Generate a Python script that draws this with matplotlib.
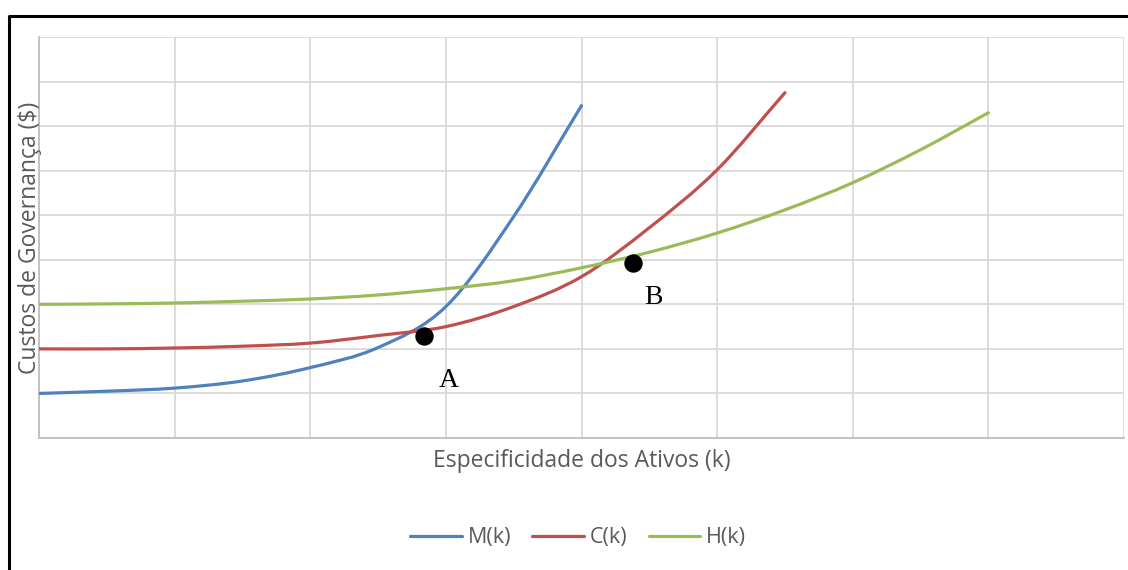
import numpy as np
import matplotlib.pyplot as plt
from matplotlib.lines import Line2D
from matplotlib.path import Path
from matplotlib.patches import PathPatch

# values (grid units)
k_m = [0, 0.5, 1.0, 1.5, 2.0, 2.5, 3.0, 3.5, 4.0]
m_k = [1.0, 1.05, 1.12, 1.28, 1.58, 2.03, 2.95, 4.97, 7.46]

k_c = [0, 0.5, 1.0, 1.5, 2.0, 2.5, 3.0, 3.5, 4.0, 4.5, 5.0, 5.5]
c_k = [2.0, 2.0, 2.02, 2.06, 2.13, 2.3, 2.5, 2.95, 3.62, 4.72, 6.02, 7.75]

k_h = [0, 0.5, 1.0, 1.5, 2.0, 2.5, 3.0, 3.5, 4.0, 4.5, 5.0, 5.5, 6.0, 6.5, 7.0]
h_k = [3.0, 3.01, 3.03, 3.07, 3.12, 3.21, 3.35, 3.53, 3.82, 4.17, 4.6, 5.12, 5.73, 6.47, 7.3]

names = ['M(k)', 'C(k)', 'H(k)']
colors = ['#4F81BD', '#C0504D', '#9BBB59']

pt_k = [2.84, 4.38]
pt_y = [2.29, 3.93]
pt_lbl = ['A', 'B']
lbl_k = [3.02, 4.53]
lbl_y = [1.3, 3.15]


def smooth_path(xs, ys):
    # smoothed line like Excel: cubic Hermite segments through the points
    x = np.asarray(xs, float)
    y = np.asarray(ys, float)
    n = len(x)
    m = np.empty(n)
    m[0] = (y[1] - y[0]) / (x[1] - x[0])
    m[-1] = (y[-1] - y[-2]) / (x[-1] - x[-2])
    m[1:-1] = (y[2:] - y[:-2]) / (x[2:] - x[:-2])
    verts = [(x[0], y[0])]
    codes = [Path.MOVETO]
    for i in range(n - 1):
        h = (x[i + 1] - x[i]) / 3
        verts += [(x[i] + h, y[i] + m[i] * h),
                  (x[i + 1] - h, y[i + 1] - m[i + 1] * h),
                  (x[i + 1], y[i + 1])]
        codes += [Path.CURVE4] * 3
    return Path(verts, codes)


fig = plt.figure(figsize=(11.28, 5.70), dpi=100)
ax = fig.add_axes([39 / 1128, 1 - 438 / 570, 1085 / 1128, 401 / 570])

handles = []
for xs, ys, name, col in zip([k_m, k_c, k_h], [m_k, c_k, h_k], names, colors):
    ax.add_patch(PathPatch(smooth_path(xs, ys), fill=False, edgecolor=col,
                           lw=2.3, capstyle='round', zorder=3))
    handles.append(Line2D([], [], color=col, lw=2.3, solid_capstyle='round', label=name))

ax.scatter(pt_k, pt_y, s=150, color='black', zorder=5)
for t, x, y in zip(pt_lbl, lbl_k, lbl_y):
    ax.text(x, y, t, family='Liberation Serif', fontsize=20, ha='center', va='center')

ax.set_xlim(0, 8)
ax.set_ylim(0, 9)
ax.set_xticks(np.arange(0, 9))
ax.set_yticks(np.arange(0, 10))
ax.tick_params(length=0, labelbottom=False, labelleft=False)
ax.grid(True, color='#d9d9d9', lw=1.3)
ax.set_axisbelow(True)
for s in ['top', 'right']:
    ax.spines[s].set_visible(False)
for s in ['left', 'bottom']:
    ax.spines[s].set_color('#bfbfbf')
    ax.spines[s].set_linewidth(1.3)

fig.text(582 / 1128, 1 - 461 / 570, 'Especificidade dos Ativos (k)', family='Open Sans',
         fontsize=16.5, color='#595959', ha='center', va='center')
fig.text(30 / 1128, 1 - 238 / 570, 'Custos de Governança ($)', family='Open Sans',
         fontsize=16.5, color='#595959', ha='center', va='center', rotation=90)

ax.legend(handles=handles, loc='center', bbox_to_anchor=(578 / 1128, 1 - 538 / 570),
          bbox_transform=fig.transFigure, ncol=3, frameon=False,
          prop={'family': 'Open Sans', 'size': 15.5}, labelcolor='#595959',
          handlelength=2.4, handletextpad=0.25, columnspacing=1.0)

# outer frame (left and top only)
bx = 8.5 / 1128
by = 1 - 15.5 / 570
fig.add_artist(Line2D([bx, bx, 1], [0, by, by], color='black', lw=2.2,
                      transform=fig.transFigure))

fig.savefig('out.png', dpi=100)
